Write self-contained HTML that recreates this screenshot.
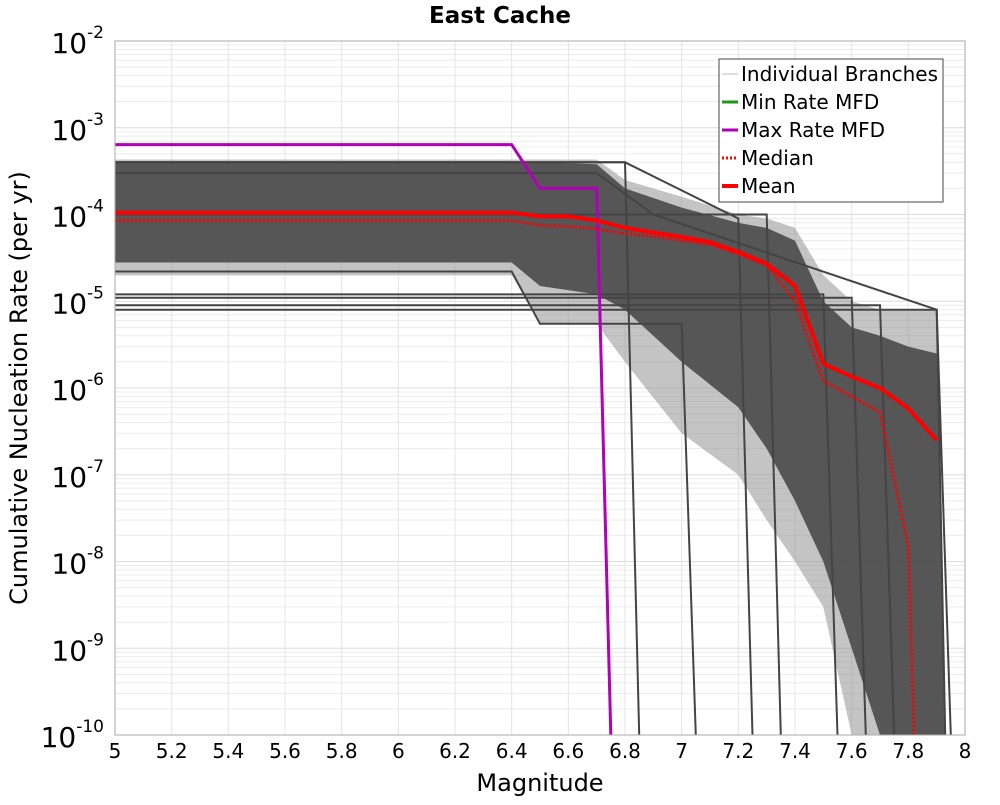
<!DOCTYPE html>
<html><head><meta charset="utf-8"><style>
body{margin:0;background:#fff;font-family:"Liberation Sans","DejaVu Sans",sans-serif}
svg text{font-family:"DejaVu Sans","Liberation Sans",sans-serif}
</style></head><body>
<svg id="chart" width="1000" height="800" xmlns="http://www.w3.org/2000/svg"></svg>
<script>
const xTicks=[5,5.2,5.4,5.6,5.8,6,6.2,6.4,6.6,6.8,7,7.2,7.4,7.6,7.8,8];
const xTickLabels=["5","5.2","5.4","5.6","5.8","6","6.2","6.4","6.6","6.8","7","7.2","7.4","7.6","7.8","8"];
const yExps=[-2,-3,-4,-5,-6,-7,-8,-9,-10];
const meanM=[5,6.4,6.5,6.6,6.7,6.8,6.9,7.0,7.1,7.2,7.3,7.4,7.5,7.6,7.7,7.8,7.9];
const meanV=[1.05e-4,1.05e-4,9.5e-5,9.5e-5,8.5e-5,7e-5,6.2e-5,5.5e-5,4.8e-5,3.7e-5,2.7e-5,1.5e-5,1.9e-6,1.35e-6,1e-6,5.8e-7,2.5e-7];
const medM=[5,6.4,6.5,6.6,6.7,6.8,6.9,7.0,7.1,7.2,7.3,7.4,7.5,7.6,7.7,7.8,7.82];
const medV=[8.5e-5,8.5e-5,7.5e-5,7.3e-5,6.8e-5,6e-5,5.6e-5,5e-5,4.5e-5,3.5e-5,2.6e-5,1e-5,1.2e-6,8e-7,5.2e-7,1.5e-8,1e-10];
const maxM=[5,6.4,6.5,6.7,6.75];
const maxV=[6.4e-4,6.4e-4,2e-4,2e-4,1e-10];
const envM=[5,6.4,6.5,6.7,6.8,7.0,7.2,7.3,7.4,7.5,7.6,7.7,7.8,7.9,7.93];
const envHi=[4.3e-4,4.3e-4,4.3e-4,4.3e-4,2.5e-4,1.6e-4,1e-4,9e-5,7e-5,2e-5,1e-5,8e-6,8e-6,8e-6,1e-10];
const envLo=[2e-5,2e-5,5.5e-6,5.5e-6,2e-6,3e-7,1e-7,3e-8,1e-8,3e-9,1e-10,1e-10,1e-10,1e-10,1e-10];
const coreHi=[4.1e-4,4.1e-4,4e-4,3.8e-4,2e-4,1.2e-4,8e-5,7e-5,5e-5,1e-5,5e-6,4e-6,3e-6,2.5e-6,1e-10];
const coreLo=[2.8e-5,2.8e-5,1.5e-5,1.2e-5,8e-6,2e-6,6e-7,2e-7,5e-8,1e-8,1e-9,1e-10,1e-10,1e-10,1e-10];
const branchM=[[5,6.8,6.85],[5,6.8,7.2,7.25],[5,7.3,7.35],[5,7.5,7.55],[5,7.6,7.65],[5,7.7,7.75],[5,7.9,7.95],[5,6.4,6.5,7.0,7.05],[5,6.7,6.9,7.9,7.93]];
const branchV=[[4e-4,4e-4,1e-10],[4e-4,4e-4,9e-5,1e-10],[1e-4,1e-4,1e-10],[1.2e-5,1.2e-5,1e-10],[1.1e-5,1.1e-5,1e-10],[9e-6,9e-6,1e-10],[8e-6,8e-6,1e-10],[2.2e-5,2.2e-5,5.5e-6,5.5e-6,1e-10],[3e-4,3e-4,1e-4,8e-6,1e-10]];
const NS="http://www.w3.org/2000/svg";
const svg=document.getElementById('chart');
const L=115,R=965,T=41,B=735;
const X=m=>L+(m-5)/3*(R-L);
const Y=v=>T+(-2-Math.log10(v))/8*(B-T);
function el(tag,attrs,parent){const e=document.createElementNS(NS,tag);for(const k in attrs)e.setAttribute(k,attrs[k]);(parent||svg).appendChild(e);return e;}
function pts(ms,vs){return ms.map((m,i)=>X(m).toFixed(1)+","+Y(vs[i]).toFixed(1)).join(" ");}
const grid=el('g',{});


for(let e=-10;e<-2;e++)for(let k=1;k<10;k++){const y=Y(k*Math.pow(10,e));el('line',{x1:L,x2:R,y1:y,y2:y,stroke:k==1?'#dcdcdc':'#ececec','stroke-width':1},grid);}
xTicks.forEach(t=>el('line',{x1:X(t),x2:X(t),y1:T,y2:B,stroke:'#e4e4e4','stroke-width':1},grid));
const clip=el('clipPath',{id:'pc'});el('rect',{x:L,y:T,width:R-L,height:B-T},clip);
const data=el('g',{'clip-path':'url(#pc)'});
const env=el('polygon',{points:pts(envM,envHi)+" "+pts(envM.slice().reverse(),envLo.slice().reverse()),fill:'#8a8a8a','fill-opacity':0.5},data);


const core=el('polygon',{points:pts(envM,coreHi)+" "+pts(envM.slice().reverse(),coreLo.slice().reverse()),fill:'#505050','fill-opacity':0.95},data);


branchM.forEach((bm,i)=>{const p=el('polyline',{points:pts(bm,branchV[i]),fill:'none',stroke:'#444','stroke-width':2},data);

});
const mx=el('polyline',{points:pts(maxM,maxV),fill:'none',stroke:'#b000b8','stroke-width':3},data);


const md=el('polyline',{points:pts(medM,medV),fill:'none',stroke:'#f00','stroke-width':3,'stroke-dasharray':'2,2'},data);


const mn=el('polyline',{points:pts(meanM,meanV),fill:'none',stroke:'#f00','stroke-width':4},data);


el('rect',{x:L,y:T,width:R-L,height:B-T,fill:'none',stroke:'#aaa','stroke-width':1});
xTicks.forEach((t,i)=>{const tx=el('text',{x:X(t),y:758,'font-size':20,'text-anchor':'middle'});tx.textContent=xTickLabels[i];

});
yExps.forEach(e=>{const g=el('text',{x:104,y:Y(Math.pow(10,e))+12,'font-size':28,'text-anchor':'end'});


g.innerHTML='10<tspan dy="-15" font-size="17">'+e+'</tspan>';});
const xt=el('text',{x:540,y:791,'font-size':24,'text-anchor':'middle'});xt.textContent='Magnitude';


const yt=el('text',{x:0,y:0,'font-size':24,'text-anchor':'middle',transform:'translate(27,388) rotate(-90)'});yt.textContent='Cumulative Nucleation Rate (per yr)';


const ti=el('text',{x:500,y:23,'font-size':23,'font-weight':'bold','text-anchor':'middle'});ti.textContent='East Cache';


const lg=el('g',{});


el('rect',{x:719,y:59,width:224,height:143,fill:'#fff',stroke:'#444','stroke-width':1},lg);
const items=[["Individual Branches",'#bbb',1,''],["Min Rate MFD",'#1a9a1a',3,''],["Max Rate MFD",'#b000b8',3,''],[" Median",'#f00',3,'2,2'],["Mean",'#f00',4,'']];
items.forEach((it,i)=>{const y=74+i*28;
const e=el('g',{},lg);


el('line',{x1:722,x2:738,y1:y,y2:y,stroke:it[1],'stroke-width':it[2],'stroke-dasharray':it[3]},e);
const t=el('text',{x:741,y:y+7,'font-size':20},e);t.textContent=it[0];});
</script>
</body></html>
